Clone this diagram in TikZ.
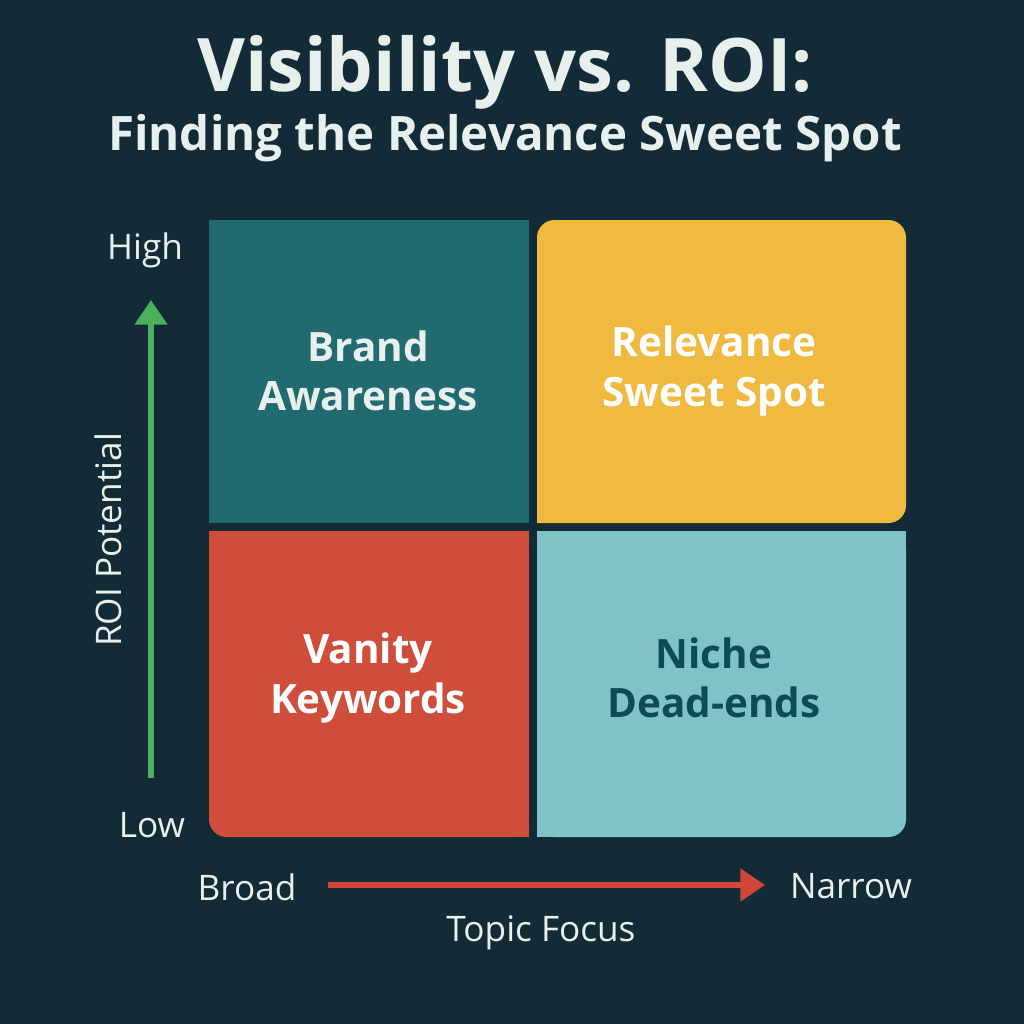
\documentclass[tikz,border=0pt]{standalone}
\usepackage{fontspec}
\setmainfont{Open Sans}
\usetikzlibrary{positioning,arrows.meta}
\definecolor{bgdark}{HTML}{122B36}
\definecolor{quadteal}{HTML}{216A70}
\definecolor{quadyellow}{HTML}{F0BA40}
\definecolor{quadred}{HTML}{CF4E3B}
\definecolor{quadlight}{HTML}{7FC3C6}
\definecolor{nichetext}{HTML}{0F4A55}
\definecolor{txtlight}{HTML}{E8F0EE}
\definecolor{arrowgreen}{HTML}{4CAF5C}
\definecolor{arrowred}{HTML}{D0473A}
\tikzset{
  quadlabel/.style={font=\fontsize{11.5}{14}\selectfont\bfseries, align=center, text=white},
  axislabel/.style={font=\fontsize{10}{12}\selectfont, text=txtlight},
}
\begin{document}
\begin{tikzpicture}[>=Triangle, x=0.01cm, y=-0.01cm]

    \fill[bgdark] (0,0) rectangle (1024,1024);
    \useasboundingbox (0,0) rectangle (1024,1024);

    \draw(505,72) node (title) [text=txtlight, font=\fontsize{21}{24}\selectfont\bfseries] {Visibility vs. ROI:};
    \draw(505,138) node (subtitle) [text=txtlight, font=\fontsize{13.5}{16}\selectfont\bfseries] {Finding the Relevance Sweet Spot};

    % quadrants
    \fill[quadteal] (209,220) rectangle (529,523);
    \fill[quadyellow, rounded corners=5pt] (537,523) -- (537,220) -- (906,220) -- (906,523) [sharp corners] -- cycle;
    \fill[quadyellow] (537,523) rectangle (890,240);
    \fill[quadred, rounded corners=5pt] (529,531) -- (209,531) -- (209,837) -- (529,837) -- cycle;
    \fill[quadred] (240,531) rectangle (529,837);
    \fill[quadred] (209,531) rectangle (529,800);
    \fill[quadlight, rounded corners=5pt] (537,531) -- (906,531) -- (906,837) -- (537,837) -- cycle;
    \fill[quadlight] (537,531) rectangle (880,837);
    \fill[quadlight] (537,531) rectangle (906,800);

    \draw(368,371) node (brand) [quadlabel, text=txtlight] {Brand\\Awareness};
    \draw(714,371) node (sweet) [quadlabel] {Relevance\\Sweet Spot};
    \draw(368,678) node (vanity) [quadlabel] {Vanity\\Keywords};
    \draw(714,678) node (niche) [quadlabel, text=nichetext] {Niche\\Dead-ends};

    % axes
    \draw(145,250) node (high) [axislabel] {High};
    \draw(152,825) node (low) [axislabel] {Low};
    \draw(108,540) node (roi) [axislabel, rotate=90] {ROI Potential};
    \draw(247,887) node (broad) [axislabel] {Broad};
    \draw(851,886) node (narrow) [axislabel] {Narrow};
    \draw(541,933) node (topic) [axislabel] {Topic Focus};
    \coordinate (gstart) at (151,778);
    \coordinate (gend) at (151,300);
    \coordinate (rstart) at (328,885);
    \coordinate (rend) at (765,885);
    \draw[->, line width=1.7pt, arrowgreen, >={Triangle[length=7pt, width=9pt]}] (gstart) -- (gend);
    \draw[->, line width=1.7pt, arrowred, >={Triangle[length=7pt, width=9pt]}] (rstart) -- (rend);

\end{tikzpicture}
\end{document}
